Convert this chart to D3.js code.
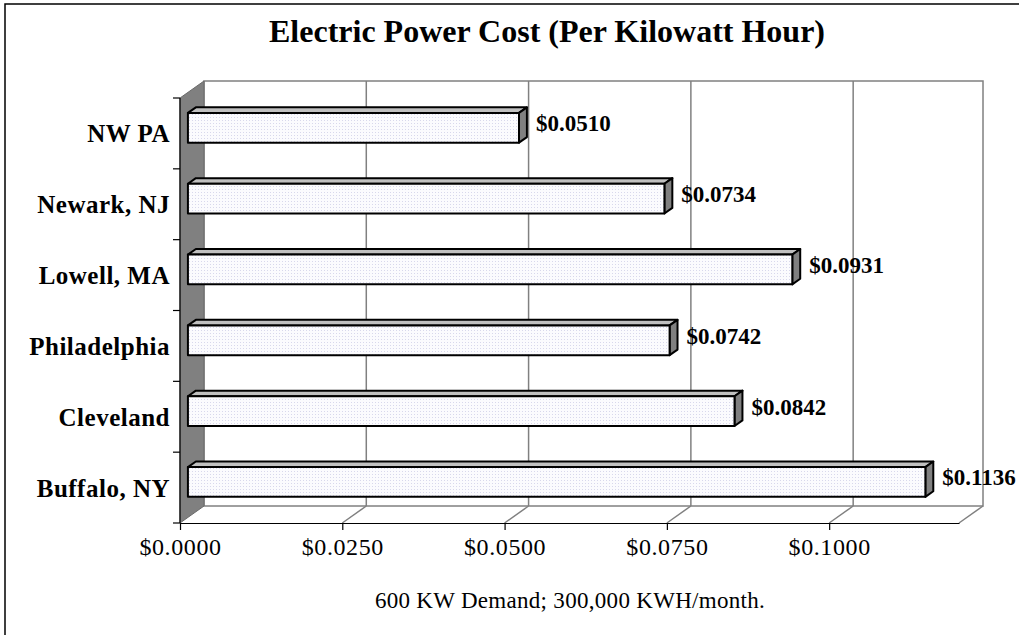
<!DOCTYPE html>
<html>
<head>
<meta charset="utf-8">
<script src="https://cdn.jsdelivr.net/npm/d3@7"></script>
<style>
  html, body { margin: 0; padding: 0; background: #fff; }
  svg { display: block; }
  text { font-family: "Liberation Serif", "Times New Roman", serif; }
</style>
</head>
<body>
<svg id="chart" width="1019" height="635"></svg>
<script>
const categories = ["NW PA", "Newark, NJ", "Lowell, MA", "Philadelphia", "Cleveland", "Buffalo, NY"];
const costs = [0.0510, 0.0734, 0.0931, 0.0742, 0.0842, 0.1136];
const valueLabels = ["$0.0510", "$0.0734", "$0.0931", "$0.0742", "$0.0842", "$0.1136"];
const tickValues = [0, 0.025, 0.05, 0.075, 0.1];
const tickLabels = ["$0.0000", "$0.0250", "$0.0500", "$0.0750", "$0.1000"];
const titleText = "Electric Power Cost (Per Kilowatt Hour)";
const noteText = "600 KW Demand; 300,000 KWH/month.";

(function () {
const svg = d3.select("#chart");
const DX = 24, DY = -17;            // depth offset of the 3D box
const ZF = 0.33, ZB = 0.66;          // bar front/back depth fraction
const x = d3.scaleLinear().domain([0, 0.12]).range([180, 959]);
const y = d3.scaleBand().domain(categories).range([98, 523]);
const proj = (v, yy, z) => [x(v) + z * DX, yy + z * DY];
const pLeft = x(0), pRight = x(0.12), pTop = y.range()[0], pBottom = y.range()[1];

// outer frame
svg.append("rect").attr("x", 5).attr("y", 4).attr("width", 1040).attr("height", 660)
  .attr("fill", "#fff").attr("stroke", "#000").attr("stroke-width", 1.5);

// back wall
svg.append("rect").attr("x", pLeft + DX).attr("y", pTop + DY)
  .attr("width", pRight - pLeft).attr("height", pBottom - pTop)
  .attr("fill", "#fff").attr("stroke", "#808080").attr("stroke-width", 1.5);

// gridlines on back wall and floor
const grid = svg.append("g").attr("stroke", "#808080").attr("stroke-width", 1.5).attr("fill", "none");
tickValues.filter(v => v > 0).forEach(v => {
  grid.append("line").attr("x1", x(v) + DX).attr("x2", x(v) + DX).attr("y1", pTop + DY).attr("y2", pBottom + DY);
  grid.append("line").attr("x1", x(v) + DX).attr("x2", x(v)).attr("y1", pBottom + DY).attr("y2", pBottom);
});
grid.append("line").attr("x1", pRight).attr("y1", pBottom).attr("x2", pRight + DX).attr("y2", pBottom + DY);

// side wall
svg.append("polygon")
  .attr("points", [[pLeft, pTop], [pLeft + DX, pTop + DY], [pLeft + DX, pBottom + DY], [pLeft, pBottom]].map(p => p.join(",")).join(" "))
  .attr("fill", "#808080").attr("stroke", "#6a6a6a").attr("stroke-width", 1);

// bottom axis
const xAxis = d3.axisBottom(x).tickValues(tickValues)
  .tickFormat((d, i) => tickLabels[i]).tickSize(7).tickSizeOuter(0);
const gx = svg.append("g").attr("transform", `translate(0,${pBottom})`).call(xAxis);
gx.select(".domain").attr("stroke", "#000").attr("stroke-width", 1.2);
gx.selectAll(".tick line").attr("stroke", "#000").attr("stroke-width", 1.2);
gx.selectAll(".tick text").attr("font-family", "Liberation Serif, serif")
  .attr("font-size", 24).attr("fill", "#000").attr("y", 32).attr("dy", null)
  .attr("letter-spacing", 0.6);

// left axis line and ticks at category boundaries
const boundaries = categories.map(c => y(c)).concat([pBottom]);
svg.append("line").attr("x1", pLeft).attr("x2", pLeft).attr("y1", pTop).attr("y2", pBottom)
  .attr("stroke", "#000").attr("stroke-width", 1.2);
svg.append("g").selectAll("line").data(boundaries).join("line")
  .attr("x1", pLeft - 7).attr("x2", pLeft).attr("y1", d => d).attr("y2", d => d)
  .attr("stroke", "#000").attr("stroke-width", 1.2);

// category labels
svg.append("g").selectAll("text").data(categories).join("text")
  .attr("x", 170).attr("y", d => y(d) + y.bandwidth() / 2 + 9)
  .attr("text-anchor", "end").attr("font-weight", "bold").attr("font-size", 25)
  .attr("letter-spacing", 0.5)
  .attr("fill", "#000").text(d => d);

// pattern for bar fronts
const defs = svg.append("defs");
const pat = defs.append("pattern").attr("id", "dots").attr("width", 3).attr("height", 3)
  .attr("patternUnits", "userSpaceOnUse");
pat.append("rect").attr("width", 3).attr("height", 3).attr("fill", "#fbfbfe");
pat.append("rect").attr("width", 1).attr("height", 1).attr("fill", "#d8d8ec");

// bars
const bh = y.bandwidth() * 0.42;
const bars = svg.append("g");
categories.forEach((c, i) => {
  const v = costs[i];
  const y0 = y(c) + (y.bandwidth() - bh) / 2, y1 = y0 + bh;
  const g = bars.append("g").attr("stroke", "#000").attr("stroke-width", 2).attr("stroke-linejoin", "round");
  const f0 = proj(0, y0, ZF), f1 = proj(v, y1, ZF);
  const topFace = [proj(0, y0, ZF), proj(v, y0, ZF), proj(v, y0, ZB), proj(0, y0, ZB)];
  const sideFace = [proj(v, y0, ZF), proj(v, y0, ZB), proj(v, y1, ZB), proj(v, y1, ZF)];
  g.append("polygon").attr("points", topFace.map(p => p.join(",")).join(" ")).attr("fill", "#c0c0c0");
  g.append("polygon").attr("points", sideFace.map(p => p.join(",")).join(" ")).attr("fill", "#808080");
  g.append("rect").attr("x", f0[0]).attr("y", f0[1]).attr("width", f1[0] - f0[0]).attr("height", f1[1] - f0[1])
    .attr("fill", "url(#dots)");
  const lp = proj(v, (y0 + y1) / 2, ZB);
  svg.append("text").attr("x", lp[0] + 9).attr("y", lp[1] + 9)
    .attr("font-weight", "bold").attr("font-size", 23).attr("fill", "#000").text(valueLabels[i]);
});

// title and note
svg.append("text").attr("x", 547).attr("y", 42).attr("text-anchor", "middle")
  .attr("font-weight", "bold").attr("font-size", 32).attr("fill", "#000").text(titleText);
svg.append("text").attr("x", 570).attr("y", 608).attr("text-anchor", "middle")
  .attr("font-size", 23).attr("letter-spacing", 0.3).attr("fill", "#000").text(noteText);
})();
</script>
</body>
</html>
